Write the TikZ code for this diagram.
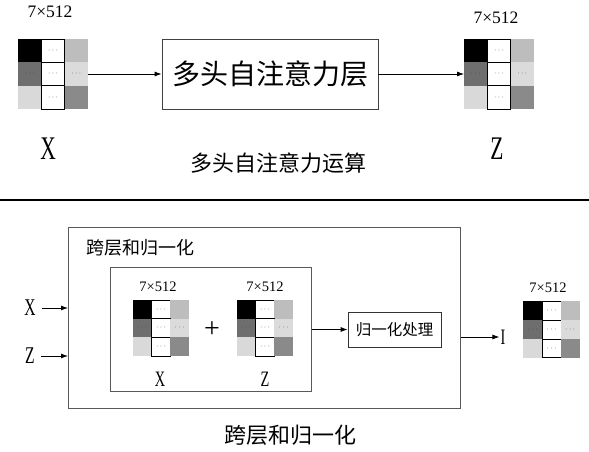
\documentclass[tikz,border=0pt]{standalone}
\usepackage{fontspec}
\setmainfont{Liberation Serif}
\newfontfamily\cjk{Noto Sans CJK SC}
\newfontfamily\narrowfont[FakeStretch=0.65]{Liberation Serif}
\usetikzlibrary{calc,arrows.meta}

\newcommand{\mdots}{$\cdots$}
% feature matrix: name, x, y, cell size
\newcommand{\featmat}[4]{%
  \node[inner sep=0pt, outer sep=0pt, minimum size=3*#4] (#1) at (#2,#3) {};
  \foreach \cx/\cy/\cl/\cd/\ct in {1/1/black/none/{}, 2/1/white/black/\mdots, 3/1/black!26/none/{},
                                  1/2/black!57/none/\mdots, 2/2/white/black/\mdots, 3/2/black!14/none/\mdots,
                                  1/3/black!15/none/{}, 2/3/white/black/\mdots, 3/3/black!46/none/{}}
    \node[cell, minimum size=#4, fill=\cl, draw=\cd] (#1-\cx\cy)
      at ($(#1.north west)+({(\cx-0.5)*#4},{(\cy-0.5)*#4})$) {\ct};
}

\begin{document}
\begin{tikzpicture}[x=1pt, y=-1pt,
    cell/.style={inner sep=0pt, outer sep=0pt, line width=0.6pt, text=black!75, font=\fontsize{8.5}{8.5}\selectfont},
    box/.style={draw=black!65, line width=0.8pt, inner sep=0pt},
    dim/.style={font=\fontsize{17.5}{17.5}\selectfont},
    dimsm/.style={font=\fontsize{14.5}{14.5}\selectfont},
    lab/.style={inner sep=1pt, font=\narrowfont\fontsize{33}{33}\selectfont},
    labsm/.style={inner sep=1pt, font=\narrowfont\fontsize{22}{22}\selectfont},
    caption/.style={font=\cjk\fontsize{22}{22}\selectfont},
    arr/.style={-{Latex[length=7pt,width=5pt]}, line width=0.8pt}
]
\useasboundingbox (0,0) rectangle (589,452);

% ---- multi-head self-attention ----
\featmat{xin}{53}{74}{23.3}
\node[dim] (xin-dim) at (50,12) {7×512};
\node[lab] (xin-lab) at (48,149) {X};

\node[box, draw=black!75, minimum width=216, minimum height=70,
      font=\cjk\fontsize{28}{28}\selectfont] (mhsa) at (270,74) {多头自注意力层};

\featmat{zout}{499}{74}{23.3}
\node[dim] (zout-dim) at (496,18) {7×512};
\node[lab] (zout-lab) at (497,149) {Z};

\node[caption] (cap1) at (278,163) {多头自注意力运算};

\draw[arr] (xin) -- (mhsa);
\draw[arr] (mhsa) -- (zout);

% ---- separator ----
\coordinate (sepL) at (0,200);
\coordinate (sepR) at (589,200);
\draw[line width=1.5pt] (sepL) -- (sepR);

% ---- add & norm ----
\node[box, minimum width=392, minimum height=181, anchor=north west] (outer) at (68,227) {};
\node[anchor=west, inner sep=0pt, font=\cjk\fontsize{18}{18}\selectfont] (outer-title) at (86,248) {跨层和归一化};

\node[box, minimum width=201, minimum height=124, anchor=north west] (inner) at (110,267) {};

\featmat{xmid}{161}{328}{18.7}
\node[dimsm] (xmid-dim) at (158,287) {7×512};
\node[labsm] (xmid-lab) at (160,379) {X};

\node[font=\fontsize{28}{28}\selectfont] (plus) at (212,330) {+};

\featmat{zmid}{265}{328}{18.7}
\node[dimsm] (zmid-dim) at (265,287) {7×512};
\node[labsm] (zmid-lab) at (265,379) {Z};

\node[box, draw=black!80, minimum width=93, minimum height=35,
      font=\cjk\fontsize{15.5}{15.5}\selectfont] (norm) at (394.5,329.5) {归一化处理};

\node[labsm, font=\narrowfont\fontsize{24}{24}\selectfont] (xin2) at (30,308) {X};
\node[labsm, font=\narrowfont\fontsize{24}{24}\selectfont] (zin2) at (30,356) {Z};

\node[labsm] (ires) at (503,337) {I};
\featmat{iout}{551.5}{329.5}{18.7}
\node[dimsm] (iout-dim) at (548,288) {7×512};

\node[caption] (cap2) at (290,435) {跨层和归一化};

\draw[arr, shorten <=5pt] (xin2.east) -- (xin2.east -| outer.west);
\draw[arr, shorten <=5pt] (zin2.east) -- (zin2.east -| outer.west);
\draw[arr] (inner.east |- norm.west) -- (norm.west);
\draw[arr] (outer.east |- ires.west) -- (ires.west);

\end{tikzpicture}
\end{document}
